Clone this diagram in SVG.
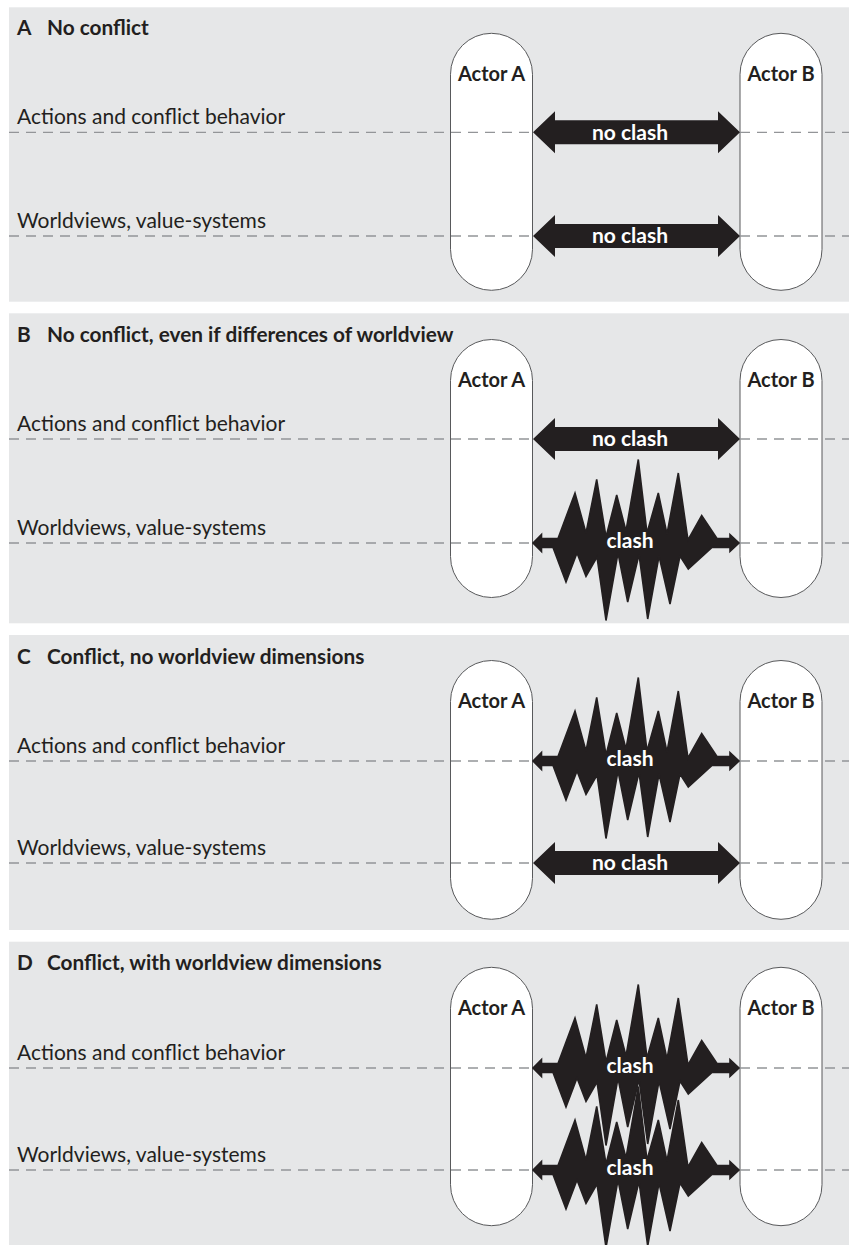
<svg xmlns="http://www.w3.org/2000/svg" xmlns:xlink="http://www.w3.org/1999/xlink" width="849" height="1245" viewBox="0 0 849 1245">
<defs>
<style>
.panel{fill:#e6e7e8}
.actor{fill:#ffffff;stroke:#58595b;stroke-width:1}
.dash{stroke:#939598;stroke-width:1.3;stroke-dasharray:10 7;fill:none}
.title{font-family:Lato,"Open Sans","Liberation Sans",sans-serif;font-weight:700;font-size:20.8px;fill:#231f20}
.label{font-family:Lato,"Open Sans","Liberation Sans",sans-serif;font-size:21px;fill:#231f20}
.actortxt{font-family:Lato,"Open Sans","Liberation Sans",sans-serif;font-weight:700;font-size:20px;fill:#231f20;text-anchor:middle}
.arrowtxt{font-family:Lato,"Open Sans","Liberation Sans",sans-serif;font-weight:700;font-size:21px;fill:#ffffff;text-anchor:middle}
.shape{fill:#231f20}
.zig{fill:#231f20;stroke:#231f20;stroke-width:1.6;stroke-linejoin:miter;stroke-miterlimit:4}
</style>
<path id="noclash" class="shape" d="M533,0 L555,-21 L555,-12 L718,-12 L718,-21 L740,0 L718,21 L718,12 L555,12 L555,21 Z"/>
<path id="clash" class="zig" d="M533,0 L541.5,-8.5 L541.5,-4.5 L558,-4.5 L575,-50 L586,-10 L596.7,-63.5 L606,-6 L616.7,-48 L626,-12 L638.3,-83.5 L647,-10 L658.3,-50 L667,-9 L678.3,-70 L688,-3 L701.7,-27.5 L717,-4.5 L730,-4.5 L730,-8.5 L739,0 L730,8.5 L730,4.5 L712,4.5 L688.3,26 L680,13 L670,61 L659,13 L647.7,76 L639,11.5 L627.7,59 L618,10 L606,77.5 L597,14 L586,33.5 L577,10 L566,39 L553,4.5 L541.5,4.5 L541.5,8.5 Z"/>
</defs>
<rect width="849" height="1245" fill="#ffffff"/>

<g id="panelA">
<rect class="panel" x="9" y="7.3" width="840" height="294.4"/>
<text class="title" x="17" y="35">A<tspan x="47">No conflict</tspan></text>
<text class="label" x="17" y="124.3">Actions and conflict behavior</text>
<text class="label" x="17" y="228">Worldviews, value-systems</text>
<g id="actorA_A"><rect class="actor" x="450.5" y="33.3" width="82" height="257" rx="41" ry="41"/><text class="actortxt" x="491.5" y="80.7">Actor A</text></g>
<g id="actorB_A"><rect class="actor" x="740" y="33.3" width="82" height="257" rx="41" ry="41"/><text class="actortxt" x="781" y="80.7">Actor B</text></g>
<line class="dash" x1="9" y1="132.3" x2="849" y2="132.3"/>
<line class="dash" x1="9" y1="236" x2="849" y2="236"/>
</g>

<g id="panelB">
<rect class="panel" x="9" y="313.3" width="840" height="310"/>
<text class="title" x="17" y="342">B<tspan x="47">No conflict, even if differences of worldview</tspan></text>
<text class="label" x="17" y="431">Actions and conflict behavior</text>
<text class="label" x="17" y="535">Worldviews, value-systems</text>
<g id="actorA_B"><rect class="actor" x="450.5" y="339.5" width="82" height="258" rx="41" ry="41"/><text class="actortxt" x="491.5" y="387">Actor A</text></g>
<g id="actorB_B"><rect class="actor" x="740" y="339.5" width="82" height="258" rx="41" ry="41"/><text class="actortxt" x="781" y="387">Actor B</text></g>
<line class="dash" x1="9" y1="439" x2="849" y2="439"/>
<line class="dash" x1="9" y1="543" x2="849" y2="543"/>
</g>

<g id="panelC">
<rect class="panel" x="9" y="635" width="840" height="295"/>
<text class="title" x="17" y="663.5">C<tspan x="47">Conflict, no worldview dimensions</tspan></text>
<text class="label" x="17" y="753">Actions and conflict behavior</text>
<text class="label" x="17" y="855">Worldviews, value-systems</text>
<g id="actorA_C"><rect class="actor" x="450.5" y="660.5" width="82" height="258.8" rx="41" ry="41"/><text class="actortxt" x="491.5" y="708">Actor A</text></g>
<g id="actorB_C"><rect class="actor" x="740" y="660.5" width="82" height="258.8" rx="41" ry="41"/><text class="actortxt" x="781" y="708">Actor B</text></g>
<line class="dash" x1="9" y1="761" x2="849" y2="761"/>
<line class="dash" x1="9" y1="863" x2="849" y2="863"/>
</g>

<g id="panelD">
<rect class="panel" x="9" y="941.7" width="840" height="303.3"/>
<text class="title" x="17" y="970">D<tspan x="47">Conflict, with worldview dimensions</tspan></text>
<text class="label" x="17" y="1060">Actions and conflict behavior</text>
<text class="label" x="17" y="1162">Worldviews, value-systems</text>
<g id="actorA_D"><rect class="actor" x="450.5" y="967.3" width="82" height="258.4" rx="41" ry="41"/><text class="actortxt" x="491.5" y="1014.7">Actor A</text></g>
<g id="actorB_D"><rect class="actor" x="740" y="967.3" width="82" height="258.4" rx="41" ry="41"/><text class="actortxt" x="781" y="1014.7">Actor B</text></g>
<line class="dash" x1="9" y1="1068" x2="849" y2="1068"/>
<line class="dash" x1="9" y1="1170" x2="849" y2="1170"/>
</g>

<g id="connectors">
<use xlink:href="#noclash" href="#noclash" y="132.3"/>
<text class="arrowtxt" x="630" y="139.5">no clash</text>
<use xlink:href="#noclash" href="#noclash" y="236"/>
<text class="arrowtxt" x="630" y="243.2">no clash</text>

<use xlink:href="#noclash" href="#noclash" y="439"/>
<text class="arrowtxt" x="630" y="446.2">no clash</text>
<use xlink:href="#clash" href="#clash" y="543"/>
<text class="arrowtxt" x="630" y="548">clash</text>

<use xlink:href="#clash" href="#clash" y="761"/>
<text class="arrowtxt" x="630" y="766">clash</text>
<use xlink:href="#noclash" href="#noclash" y="863"/>
<text class="arrowtxt" x="630" y="870.2">no clash</text>

<use xlink:href="#clash" href="#clash" y="1068"/>
<use xlink:href="#clash" href="#clash" y="1170"/>
<text class="arrowtxt" x="630" y="1073">clash</text>
<text class="arrowtxt" x="630" y="1175">clash</text>
</g>
</svg>
